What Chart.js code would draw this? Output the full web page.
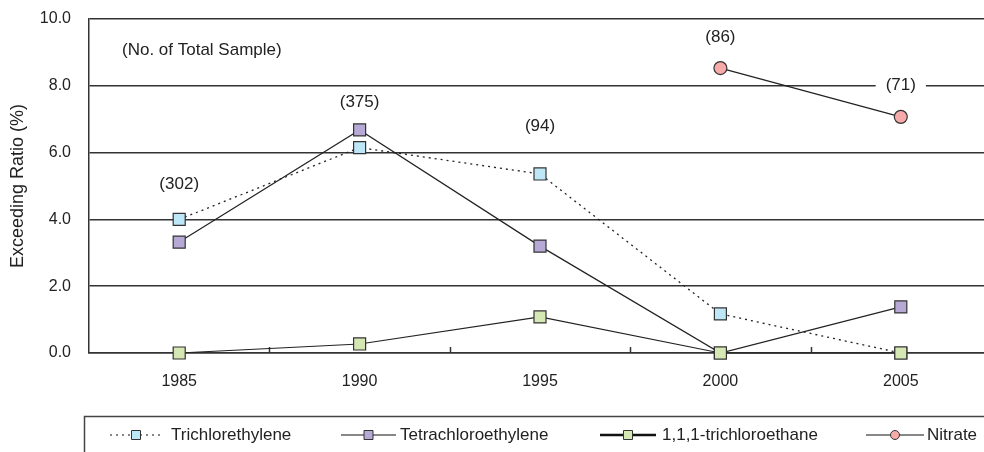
<!DOCTYPE html>
<html>
<head>
<meta charset="utf-8">
<script src="https://cdn.jsdelivr.net/npm/chart.js@4"></script>
<style>
  html, body { margin: 0; padding: 0; background: #fff; overflow: hidden; }
  #wrap { width: 984px; height: 452px; overflow: hidden; }
  #myChart { display: block; width: 992px; height: 452px; }
</style>
</head>
<body>
<div id="wrap"><canvas id="myChart" width="992" height="452"></canvas></div>
<script>
"use strict";

const years = ['1985', '1990', '1995', '2000', '2005'];
const trichlorethylene = [4.0, 6.15, 5.36, 1.17, 0.0];
const tetrachloroethylene = [3.32, 6.68, 3.2, 0.0, 1.38];
const trichloroethane = [0.0, 0.27, 1.08, 0.0, 0.0];
const nitrate = [null, null, null, 8.53, 7.07];
const sampleCounts = ['(302)', '(375)', '(94)', '(86)', '(71)'];
const sampleLevels = [5.05, 7.5, 6.8, 9.45, 8.02];
const yTicks = [0, 2, 4, 6, 8, 10];

const FONT = '"Liberation Sans", Arial, sans-serif';
const INK = '#222';

// legend row, drawn by hand so line + marker look like the original
const legendPlugin = {
  id: 'boxLegend',
  afterDraw(chart) {
    const ctx = chart.ctx;
    const slots = [
      {x0: 110, x1: 162, tx: 171},
      {x0: 341, x1: 396, tx: 400},
      {x0: 600, x1: 656, tx: 662},
      {x0: 866, x1: 924, tx: 927}
    ];
    const y = 435;
    ctx.save();
    ctx.strokeStyle = '#444';
    ctx.lineWidth = 1.5;
    ctx.strokeRect(84.5, 416.5, 1000, 100);
    chart.data.datasets.forEach((ds, i) => {
      const s = slots[i];
      ctx.strokeStyle = '#111';
      ctx.lineWidth = ds.legendLineWidth || 1;
      ctx.setLineDash(ds.borderDash || []);
      ctx.beginPath();
      ctx.moveTo(s.x0, y);
      ctx.lineTo(s.x1, y);
      ctx.stroke();
      ctx.setLineDash([]);
      const mx = (s.x0 + s.x1) / 2;
      ctx.fillStyle = ds.pointBackgroundColor;
      ctx.strokeStyle = '#333';
      ctx.lineWidth = 1;
      ctx.beginPath();
      if (ds.pointStyle === 'circle') {
        ctx.arc(mx, y, 4.5, 0, Math.PI * 2);
      } else {
        ctx.rect(mx - 4.5, y - 4.5, 9, 9);
      }
      ctx.fill();
      ctx.stroke();
      ctx.fillStyle = INK;
      ctx.font = '17px ' + FONT;
      ctx.textAlign = 'left';
      ctx.textBaseline = 'middle';
      ctx.fillText(ds.label, s.tx, y);
    });
    ctx.restore();
  }
};

// sample counts and note, plus inward x ticks between categories
const notesPlugin = {
  id: 'notes',
  beforeDatasetsDraw(chart) {
    const ctx = chart.ctx;
    const xs = chart.scales.x, ys = chart.scales.y;
    const area = chart.chartArea;
    ctx.save();
    ctx.strokeStyle = '#333';
    ctx.lineWidth = 1.5;
    for (let i = 1; i < years.length; i++) {
      const px = Math.round((xs.getPixelForValue(i - 1) + xs.getPixelForValue(i)) / 2) + 0.5;
      ctx.beginPath();
      ctx.moveTo(px, area.bottom);
      ctx.lineTo(px, area.bottom - 6);
      ctx.stroke();
    }
    ctx.font = '17px ' + FONT;
    ctx.textAlign = 'center';
    ctx.textBaseline = 'middle';
    sampleCounts.forEach((txt, i) => {
      const px = xs.getPixelForValue(i);
      const py = ys.getPixelForValue(sampleLevels[i]);
      const w = ctx.measureText(txt).width + 20;
      ctx.fillStyle = '#fff';
      ctx.fillRect(px - w / 2, py - 10, w, 20);
      ctx.fillStyle = INK;
      ctx.fillText(txt, px, py);
    });
    ctx.textAlign = 'left';
    ctx.fillText('(No. of Total Sample)', area.left + 33, ys.getPixelForValue(9.07));
    ctx.restore();
  }
};

const ctx = document.getElementById('myChart').getContext('2d');
const chart = new Chart(ctx, {
  type: 'line',
  data: {
    labels: years,
    datasets: [
      {
        label: 'Trichlorethylene',
        data: trichlorethylene,
        borderColor: '#222',
        borderWidth: 1.3,
        borderDash: [2, 4],
        pointStyle: 'rect',
        pointRadius: 8.5,
        pointBackgroundColor: '#bde6f7',
        pointBorderColor: '#333',
        pointBorderWidth: 1.2,
        order: 3
      },
      {
        label: 'Tetrachloroethylene',
        data: tetrachloroethylene,
        borderColor: '#222',
        borderWidth: 1.2,
        pointStyle: 'rect',
        pointRadius: 8.5,
        pointBackgroundColor: '#b7a9d6',
        pointBorderColor: '#333',
        pointBorderWidth: 1.2,
        order: 2
      },
      {
        label: '1,1,1-trichloroethane',
        data: trichloroethane,
        borderColor: '#222',
        borderWidth: 1.2,
        legendLineWidth: 2.5,
        pointStyle: 'rect',
        pointRadius: 8.5,
        pointBackgroundColor: '#d5e8b3',
        pointBorderColor: '#333',
        pointBorderWidth: 1.2,
        order: 1
      },
      {
        label: 'Nitrate',
        data: nitrate,
        borderColor: '#222',
        borderWidth: 1.2,
        pointStyle: 'circle',
        pointRadius: 6.5,
        pointBackgroundColor: '#f6aaa9',
        pointBorderColor: '#333',
        pointBorderWidth: 1.2,
        order: 4
      }
    ]
  },
  options: {
    responsive: false,
    animation: false,
    devicePixelRatio: 1,
    layout: { autoPadding: false, padding: { top: 19, left: 0, right: 1, bottom: 0 } },
    elements: { line: { tension: 0, fill: false } },
    datasets: { line: { clip: false, spanGaps: false } },
    plugins: {
      legend: { display: false },
      tooltip: { enabled: false }
    },
    scales: {
      x: {
        offset: true,
        grid: { display: false },
        border: { display: true, color: '#333', width: 1.5 },
        ticks: {
          color: INK,
          font: { family: FONT, size: 16 },
          padding: 11,
          maxRotation: 0
        },
        afterFit(s) { s.height = 99; }
      },
      y: {
        min: 0,
        max: 10,
        afterBuildTicks(s) { s.ticks = yTicks.map(v => ({ value: v })); },
        grid: { color: '#333', lineWidth: 1.5, drawTicks: false },
        border: { display: true, color: '#333', width: 1.5 },
        ticks: {
          color: INK,
          font: { family: FONT, size: 16 },
          padding: 18,
          callback: v => v.toFixed(1)
        },
        title: {
          display: true,
          text: 'Exceeding Ratio (%)',
          color: INK,
          font: { family: FONT, size: 18 },
          padding: { top: 7, bottom: 4 }
        },
        afterFit(s) {
          s.width = 89;
          s.paddingTop = 0;
          s.paddingBottom = 0;
        }
      }
    }
  },
  plugins: [notesPlugin, legendPlugin]
});
</script>
</body>
</html>
